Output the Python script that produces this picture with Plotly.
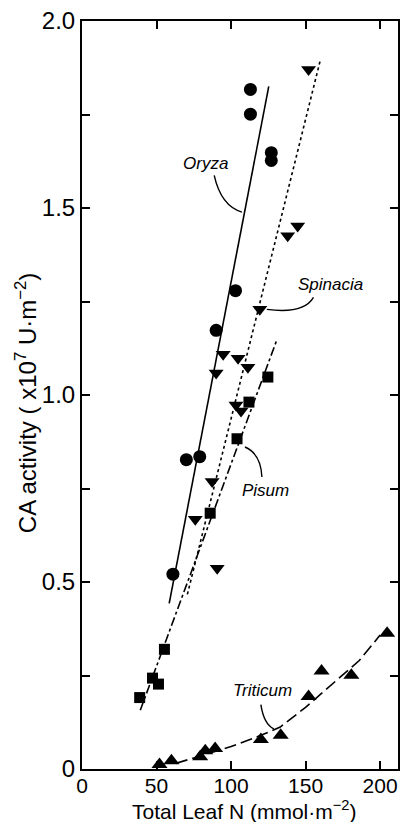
import plotly.graph_objects as go

# ---- data ----
oryza_x = [113, 113, 127, 127, 103, 90, 70, 79, 61]
oryza_y = [1.817, 1.751, 1.648, 1.627, 1.279, 1.173, 0.827, 0.835, 0.521]
oryza_fit_x = [58.5, 125.3]
oryza_fit_y = [0.443, 1.825]

spin_x = [152, 144.7, 138, 119.3, 94.7, 104.7, 111.3, 90, 103.3, 106.7, 87.3, 76, 90.7]
spin_y = [1.87, 1.452, 1.426, 1.229, 1.109, 1.098, 1.074, 1.059, 0.973, 0.957, 0.769, 0.668, 0.537]
spin_fit_x = [70.7, 159.8]
spin_fit_y = [0.467, 1.894]

pisum_x = [124.7, 112, 104, 86, 55.3, 47.3, 51.3, 38.7]
pisum_y = [1.048, 0.981, 0.883, 0.684, 0.320, 0.243, 0.227, 0.191]
pisum_fit_x = [39.1, 130.4]
pisum_fit_y = [0.157, 1.144]

trit_x = [52, 60, 79.3, 82.7, 89.3, 120, 133.3, 152, 160.7, 180.7, 204.7]
trit_y = [0.012, 0.022, 0.033, 0.049, 0.055, 0.079, 0.09, 0.194, 0.262, 0.251, 0.363]
trit_fit_x = [63, 80, 100, 120, 133, 150, 160, 172, 186, 200]
trit_fit_y = [0.015, 0.035, 0.06, 0.09, 0.112, 0.165, 0.2, 0.243, 0.29, 0.358]

x_ticks = [0, 50, 100, 150, 200]
x_ticktext = ["0", "50", "100", "150", "200"]
y_ticks = [0, 0.5, 1.0, 1.5, 2.0]
y_ticktext = ["0", "0.5", "1.0", "1.5", "2.0"]
y_minor_ticks = [0.25, 0.75, 1.25, 1.75]

FONT = "Liberation Sans"
fig = go.Figure()

def fit(x, y, dash):
    fig.add_trace(go.Scatter(x=x, y=y, mode="lines",
                             line=dict(color="black", width=1.6, dash=dash),
                             showlegend=False, hoverinfo="skip"))

fit(oryza_fit_x, oryza_fit_y, "solid")
fit(spin_fit_x, spin_fit_y, "dot")
fit(pisum_fit_x, pisum_fit_y, "dashdot")
fit(trit_fit_x, trit_fit_y, "12px,5px")

def pts(x, y, sym, size):
    fig.add_trace(go.Scatter(x=x, y=y, mode="markers",
                             marker=dict(symbol=sym, size=size, color="black",
                                         line=dict(width=0)),
                             showlegend=False))

pts(oryza_x, oryza_y, "circle", 13)
pts(spin_x, spin_y, "triangle-down", 13)
pts(pisum_x, pisum_y, "square", 11)
pts(trit_x, trit_y, "triangle-up", 14)

labels = [("Oryza", 82.7, 1.62), ("Spinacia", 166.7, 1.296),
          ("Pisum", 123, 0.744), ("Triticum", 121, 0.21)]
for t, x, y in labels:
    fig.add_annotation(x=x, y=y, xref="x", yref="y", text="<i>%s</i>" % t,
                       showarrow=False, font=dict(family=FONT, size=17, color="black"))

# curved leader lines (data coordinates)
curves = [
    "M 88.7,1.587 Q 93.3,1.505 107.3,1.489",
    "M 155.3,1.261 Q 148.7,1.216 124,1.229",
    "M 120.7,0.781 Q 120,0.843 109.3,0.861",
    "M 120,0.172 Q 122,0.12 128.7,0.107",
]
for p in curves:
    fig.add_shape(type="path", path=p, xref="x", yref="y",
                  line=dict(color="black", width=1.4))

fig.add_annotation(xref="paper", yref="paper", x=0.514, y=-0.0545,
                   text="Total Leaf N (mmol·m<sup>−2</sup>)", showarrow=False,
                   xanchor="center", yanchor="middle",
                   font=dict(family=FONT, size=21, color="black"))
fig.add_annotation(xref="paper", yref="paper", x=-0.175, y=0.49,
                   text="CA activity ( x10<sup>7</sup> U·m<sup>−2</sup>)", showarrow=False,
                   textangle=-90, xanchor="center", yanchor="middle",
                   font=dict(family=FONT, size=24, color="black"))

axis_common = dict(showline=True, linecolor="black", linewidth=2, mirror="allticks",
                   ticks="inside", ticklen=8, tickwidth=2, tickcolor="black",
                   showgrid=False, zeroline=False)
fig.update_xaxes(range=[0, 212], tickvals=x_ticks, ticktext=x_ticktext,
                 ticklabelstandoff=-3,
                 tickfont=dict(family=FONT, size=21, color="black"), **axis_common)
fig.update_yaxes(range=[0, 2.0], tickvals=y_ticks, ticktext=y_ticktext,
                 minor=dict(tickvals=y_minor_ticks, ticks="inside", ticklen=8,
                            tickwidth=2, tickcolor="black", showgrid=False),
                 tickfont=dict(family=FONT, size=24, color="black"), **axis_common)

fig.update_layout(width=403, height=822, margin=dict(l=82, r=3, t=21, b=53),
                  paper_bgcolor="white", plot_bgcolor="white", showlegend=False)
fig.write_html("out.html")
